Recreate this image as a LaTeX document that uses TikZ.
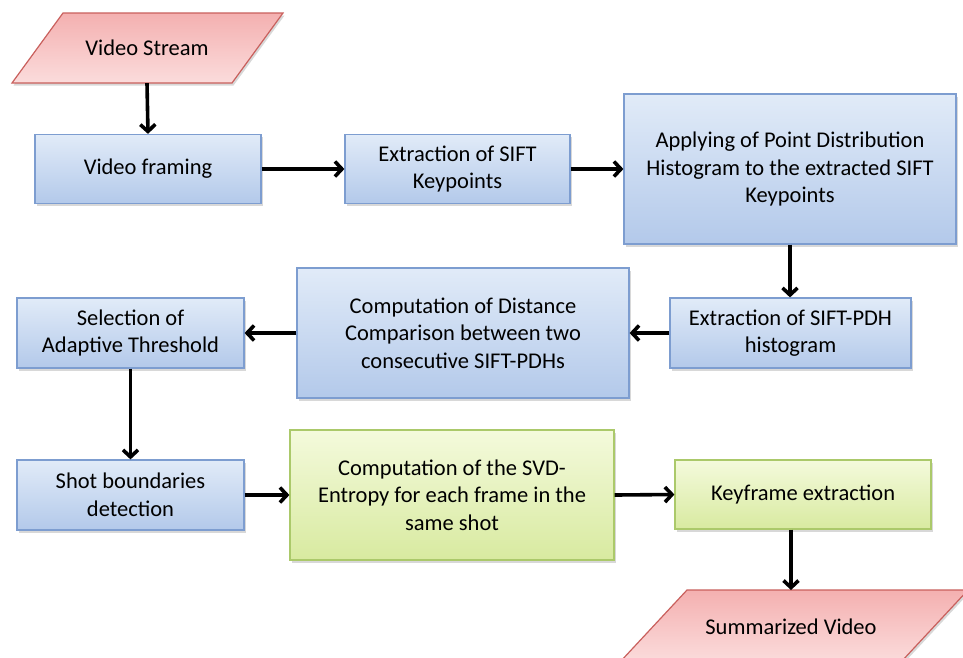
\documentclass[tikz,border=0pt]{standalone}
\usepackage{fontspec}
\setmainfont{Carlito}
\usetikzlibrary{arrows.meta,shadows}
\definecolor{bluetop}{HTML}{E1EBF8}
\definecolor{bluebot}{HTML}{B3C9EA}
\definecolor{blueedge}{HTML}{7D9DD0}
\definecolor{greentop}{HTML}{F4FADC}
\definecolor{greenbot}{HTML}{D8EAA0}
\definecolor{greenedge}{HTML}{ABC96A}
\definecolor{pinktop}{HTML}{F4B0B0}
\definecolor{pinkbot}{HTML}{FBDCDC}
\definecolor{pinkedge}{HTML}{C9605D}
\tikzset{
  box/.style={draw, line width=1.2pt, inner sep=2pt, align=center,
    font=\fontsize{22.5}{27.5}\selectfont,
    drop shadow={shadow xshift=1.5pt, shadow yshift=-2.5pt, opacity=0.3}},
  bluebox/.style={box, draw=blueedge, top color=bluetop, bottom color=bluebot},
  greenbox/.style={box, draw=greenedge, top color=greentop, bottom color=greenbot},
  iobox/.style={draw=pinkedge, line width=1.2pt, top color=pinktop, bottom color=pinkbot,
    drop shadow={shadow xshift=1.5pt, shadow yshift=-2.5pt, opacity=0.3}},
  iotext/.style={inner sep=0pt, font=\fontsize{22.5}{27.5}\selectfont},
  conn/.style={line width=3.6pt, -{Straight Barb[length=7pt,width=15pt]}}
}
\begin{document}
\begin{tikzpicture}[x=1pt,y=-1pt]
\useasboundingbox (0,0) rectangle (963,657);
\fill[white] (0,0) rectangle (963,657);
\clip (0,0) rectangle (963,657);
% Video Stream
\path[iobox] (63,13) -- (283,13) -- (232,83) -- (12,83) -- cycle;
\node[iotext, minimum height=70pt] (vs) at (147,48) {Video Stream};
% Summarized Video
\path[iobox] (687,590) -- (968,590) -- (901,662) -- (620,662) -- cycle;
\node[iotext, minimum height=74pt] (sv) at (791,627) {Summarized Video};
% boxes
\node[bluebox, minimum width=226pt, minimum height=69pt] (vf) at (148,169) {Video framing};
\node[bluebox, minimum width=225pt, minimum height=69pt] (es) at (457.5,169) {Extraction of SIFT\\Keypoints};
\node[bluebox, minimum width=332pt, minimum height=150pt] (ap) at (790,169) {Applying of Point Distribution\\Histogram to the extracted SIFT\\Keypoints};
\node[bluebox, minimum width=241pt, minimum height=70pt] (pdh) at (790.5,333) {Extraction of SIFT-PDH\\histogram};
\node[bluebox, minimum width=332pt, minimum height=130pt] (cd) at (463,333) {Computation of Distance\\Comparison between two\\consecutive SIFT-PDHs};
\node[bluebox, minimum width=227pt, minimum height=70pt] (sel) at (130.5,333) {Selection of\\Adaptive Threshold};
\node[bluebox, minimum width=227pt, minimum height=70pt] (sb) at (130.5,495) {Shot boundaries\\detection};
\node[greenbox, minimum width=324pt, minimum height=130pt] (svd) at (452,495) {Computation of the SVD-\\Entropy for each frame in the\\same shot};
\node[greenbox, minimum width=256pt, minimum height=69pt] (kf) at (803,494.5) {Keyframe extraction};
% connectors
\draw[conn] (vs.south) -- (vf.north);
\draw[conn] (vf.east) -- (es.west);
\draw[conn] (es.east) -- (ap.west);
\draw[conn] (ap.south) -- (ap.south |- pdh.north);
\draw[conn] (pdh.west) -- (cd.east);
\draw[conn] (cd.west) -- (sel.east);
\draw[conn] (sel.south) -- (sb.north);
\draw[conn] (sb.east) -- (svd.west);
\draw[conn] (svd.east) -- (kf.west);
\coordinate (svtop) at (791,590);
\draw[conn] (kf.south -| svtop) -- (svtop);
\end{tikzpicture}
\end{document}
